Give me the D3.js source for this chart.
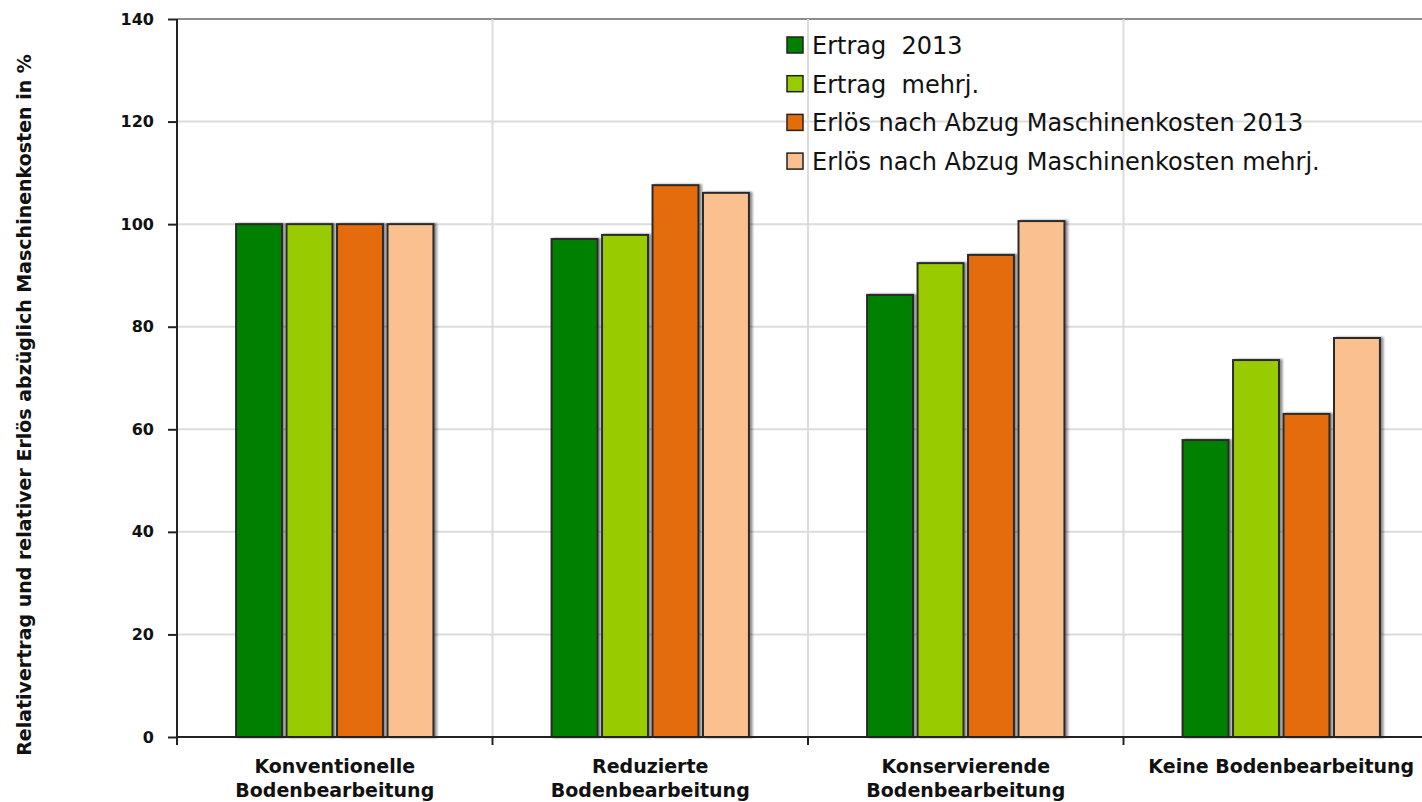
<!DOCTYPE html>
<html>
<head>
<meta charset="utf-8">
<script src="https://cdn.jsdelivr.net/npm/d3@7"></script>
<style>
  body { margin: 0; background: #fff; }
  svg { display: block; }
</style>
</head>
<body>
<svg id="svg"></svg>
<script>
const width = 1422, height = 802;

// data
const categories = ["Konventionelle Bodenbearbeitung", "Reduzierte Bodenbearbeitung",
                    "Konservierende Bodenbearbeitung", "Keine Bodenbearbeitung"];
const catLines = [["Konventionelle", "Bodenbearbeitung"], ["Reduzierte", "Bodenbearbeitung"],
                  ["Konservierende", "Bodenbearbeitung"], ["Keine Bodenbearbeitung"]];
const seriesNames = ["Ertrag  2013", "Ertrag  mehrj.",
                     "Erlös nach Abzug Maschinenkosten 2013", "Erlös nach Abzug Maschinenkosten mehrj."];
const ertrag2013 = [100, 97.1, 86.2, 57.9];
const ertragMehrj = [100, 97.9, 92.4, 73.5];
const erloes2013 = [100, 107.6, 94.0, 63.0];
const erloesMehrj = [100, 106.1, 100.6, 77.8];
const yTicks = [0, 20, 40, 60, 80, 100, 120, 140];
const colors = ["#008000", "#99cc00", "#e46c0a", "#fac090"];

const allSeries = [ertrag2013, ertragMehrj, erloes2013, erloesMehrj];

const margin = {left: 177, top: 19};
const plotH = 718;
const bandW = 315.5;

const svg = d3.select("#svg").attr("width", width).attr("height", height);

const defs = svg.append("defs");
const f = defs.append("filter").attr("id", "shadow")
    .attr("x", "-10%").attr("y", "-10%").attr("width", "130%").attr("height", "120%");
f.append("feDropShadow").attr("dx", 2.5).attr("dy", 0).attr("stdDeviation", 1.2)
    .attr("flood-color", "#000").attr("flood-opacity", 0.45);

const x = d3.scaleBand().domain(categories)
    .range([margin.left, margin.left + bandW * categories.length]).padding(0);
const x1 = d3.scaleBand().domain(seriesNames).range([0, x.bandwidth()])
    .paddingInner(0.09).paddingOuter(1.17);
const y = d3.scaleLinear().domain([0, 140]).range([margin.top + plotH, margin.top]);

// horizontal grid
svg.append("g").selectAll("line").data(yTicks.filter(d => d > 0)).join("line")
    .attr("x1", margin.left).attr("x2", width)
    .attr("y1", d => y(d)).attr("y2", d => y(d))
    .attr("stroke", d => d === 140 ? "#8c8c8c" : "#dcdcdc")
    .attr("stroke-width", 2);

// vertical grid at category boundaries
svg.append("g").selectAll("line").data(categories.slice(1)).join("line")
    .attr("x1", d => x(d)).attr("x2", d => x(d))
    .attr("y1", y(140)).attr("y2", y(0))
    .attr("stroke", "#dcdcdc").attr("stroke-width", 2);

// bars
const groups = svg.append("g").selectAll("g").data(categories).join("g")
    .attr("transform", c => `translate(${x(c)},0)`);

groups.selectAll("rect")
    .data((c, i) => seriesNames.map((s, j) => ({s, j, v: allSeries[j][i]})))
    .join("rect")
    .attr("x", d => x1(d.s))
    .attr("width", x1.bandwidth())
    .attr("y", d => y(d.v))
    .attr("height", d => y(0) - y(d.v))
    .attr("fill", d => colors[d.j])
    .attr("stroke", "#2b2b2b")
    .attr("stroke-width", 2)
    .attr("filter", "url(#shadow)");

// y axis
const yAxis = svg.append("g")
    .attr("transform", `translate(${margin.left},0)`)
    .call(d3.axisLeft(y).tickValues(yTicks).tickSize(9).tickPadding(14));
yAxis.select(".domain").remove();
yAxis.selectAll(".tick line").attr("stroke", "#222").attr("stroke-width", 2);
yAxis.selectAll("text")
    .attr("font-family", "DejaVu Sans, Verdana, sans-serif")
    .attr("font-weight", "bold").attr("font-size", 16).attr("fill", "#111");
svg.append("line")
    .attr("x1", margin.left).attr("x2", margin.left)
    .attr("y1", y(140)).attr("y2", y(0) + 8)
    .attr("stroke", "#222").attr("stroke-width", 2);

// x axis
svg.append("line")
    .attr("x1", margin.left).attr("x2", width)
    .attr("y1", y(0)).attr("y2", y(0))
    .attr("stroke", "#222").attr("stroke-width", 2);
svg.append("g").selectAll("line").data(categories.slice(1)).join("line")
    .attr("x1", d => x(d)).attr("x2", d => x(d))
    .attr("y1", y(0)).attr("y2", y(0) + 8)
    .attr("stroke", "#222").attr("stroke-width", 2);

const labels = svg.append("g").selectAll("text").data(categories).join("text")
    .attr("x", c => x(c) + x.bandwidth() / 2)
    .attr("y", 773)
    .attr("text-anchor", "middle")
    .attr("font-family", "DejaVu Sans, Verdana, sans-serif")
    .attr("font-weight", "bold").attr("font-size", 19).attr("fill", "#111");
labels.selectAll("tspan").data((c, i) => catLines[i]).join("tspan")
    .attr("x", function() { return d3.select(this.parentNode).attr("x"); })
    .attr("dy", (d, i) => i === 0 ? 0 : 24)
    .text(d => d);

// y title
svg.append("text")
    .attr("transform", `translate(31,${(50 + 760) / 2}) rotate(-90)`)
    .attr("text-anchor", "middle")
    .attr("font-family", "DejaVu Sans, Verdana, sans-serif")
    .attr("font-weight", "bold").attr("font-size", 19).attr("fill", "#111")
    .text("Relativertrag und relativer Erlös abzüglich Maschinenkosten in %");

// legend
const legend = svg.append("g").attr("transform", "translate(787,37)");
const item = legend.selectAll("g").data(seriesNames).join("g")
    .attr("transform", (d, i) => `translate(0,${i * 38.7})`);
item.append("rect")
    .attr("width", 16).attr("height", 16)
    .attr("fill", (d, i) => colors[i])
    .attr("stroke", "#222").attr("stroke-width", 1.5);
item.append("text")
    .attr("x", 25).attr("y", 17)
    .attr("font-family", "DejaVu Sans, Verdana, sans-serif")
    .attr("font-size", 24).attr("fill", "#111")
    .style("white-space", "pre")
    .text(d => d);
</script>
</body>
</html>
